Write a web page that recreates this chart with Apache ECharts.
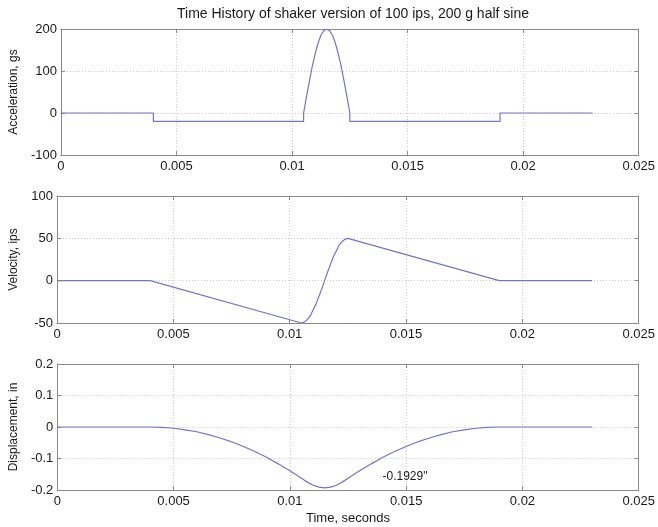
<!DOCTYPE html>
<html>
<head>
<meta charset="utf-8">
<script src="https://cdn.jsdelivr.net/npm/echarts@6/dist/echarts.min.js"></script>
<style>
  html, body { margin: 0; padding: 0; background: #fff; }
  #main { width: 658px; height: 527px; }
</style>
</head>
<body>
<div id="main"></div>
<script>
// time history (time s, value)
var accelData = [
  [0, 0], [0.004, 0], [0.004, -20], [0.0105, -20], [0.0105, 0],
  [0.010625, 39], [0.01075, 76], [0.010875, 111], [0.011, 141],
  [0.011125, 166], [0.01125, 185], [0.011375, 196], [0.0115, 200],
  [0.011625, 196], [0.01175, 185], [0.011875, 166], [0.012, 141],
  [0.012125, 111], [0.01225, 76], [0.012375, 39], [0.0125, 0],
  [0.0125, -20], [0.019, -20], [0.019, 0], [0.023, 0]
];
var velData = [
  [0, 0], [0.004, 0], [0.0105, -50], [0.010625, -49], [0.01075, -46],
  [0.010875, -42], [0.011, -35], [0.011125, -28], [0.01125, -19],
  [0.011375, -10], [0.0115, 0], [0.011625, 10], [0.01175, 19],
  [0.011875, 28], [0.012, 35], [0.012125, 42], [0.01225, 46],
  [0.012375, 49], [0.0125, 50], [0.019, 0], [0.023, 0]
];
var dispData = [
  [0, 0], [0.004, 0], [0.0045, -0.001], [0.005, -0.004], [0.0055, -0.009],
  [0.006, -0.015], [0.0065, -0.024], [0.007, -0.035], [0.0075, -0.047],
  [0.008, -0.062], [0.0085, -0.078], [0.009, -0.096], [0.0095, -0.117],
  [0.010, -0.139], [0.0105, -0.163], [0.01075, -0.175], [0.011, -0.185],
  [0.01125, -0.191], [0.0115, -0.193], [0.01175, -0.191], [0.012, -0.185],
  [0.01225, -0.175], [0.0125, -0.163], [0.013, -0.139], [0.0135, -0.117],
  [0.014, -0.096], [0.0145, -0.078], [0.015, -0.062], [0.0155, -0.047],
  [0.016, -0.035], [0.0165, -0.024], [0.017, -0.015], [0.0175, -0.009],
  [0.018, -0.004], [0.0185, -0.001], [0.019, 0], [0.023, 0]
];
var xTicks = [0, 0.005, 0.01, 0.015, 0.02, 0.025];
var accelTicks = [-100, 0, 100, 200];
var velTicks = [-50, 0, 50, 100];
var dispTicks = [-0.2, -0.1, 0, 0.1, 0.2];
var peakLabel = '-0.1929"';
var peakLabelAt = [0.01495, -0.159];

var chart = echarts.init(document.getElementById('main'));

var lineColor = '#7474c9';
var boxColor = '#8a8a8a';
var textColor = '#1a1a1a';
var font = 'Liberation Sans, Arial, sans-serif';

var grids = [
  {left: 55, top: 29, width: 587, height: 126},
  {left: 55, top: 196, width: 587, height: 127},
  {left: 55, top: 364, width: 587, height: 126}
];
var yTicks = [accelTicks, velTicks, dispTicks];
var yNames = ['Acceleration, gs', 'Velocity, ips', 'Displacement, in'];

var boxLine = {show: true, onZero: false, lineStyle: {color: boxColor}};
var boxTick = {show: true, inside: true, length: 4, lineStyle: {color: boxColor}};

var xAxes = [], yAxes = [];
for (var i = 0; i < 3; i++) {
  // bottom x axis with labels and grid
  xAxes.push({
    type: 'value', gridIndex: i, position: 'bottom',
    min: xTicks[0], max: xTicks[xTicks.length - 1], interval: xTicks[1] - xTicks[0],
    name: i === 2 ? 'Time, seconds' : '', nameLocation: 'middle', nameGap: 22,
    nameTextStyle: {color: textColor, fontSize: 13, fontFamily: font},
    axisLine: boxLine, axisTick: boxTick,
    axisLabel: {color: textColor, fontSize: 13, fontFamily: font, margin: 5,
      showMaxLabel: true, showMinLabel: true},
    splitLine: {show: true, lineStyle: {color: '#c8c8c8', type: [1, 2]}}
  });
  // top x axis, box + ticks only
  xAxes.push({
    type: 'value', gridIndex: i, position: 'top',
    min: xTicks[0], max: xTicks[xTicks.length - 1], interval: xTicks[1] - xTicks[0],
    axisLine: boxLine, axisTick: boxTick,
    axisLabel: {show: false}, splitLine: {show: false}
  });
  var t = yTicks[i];
  yAxes.push({
    type: 'value', gridIndex: i, position: 'left',
    min: t[0], max: t[t.length - 1], interval: t[1] - t[0],
    name: yNames[i], nameLocation: 'middle', nameGap: 37,
    nameTextStyle: {color: textColor, fontSize: 12, fontFamily: font},
    axisLine: boxLine, axisTick: boxTick,
    axisLabel: {color: textColor, fontSize: 13, fontFamily: font, margin: 4,
      formatter: function (v) { return String(Math.round(v * 1000) / 1000); }},
    splitLine: {show: true, lineStyle: {color: '#c8c8c8', type: [1, 2]}}
  });
  yAxes.push({
    type: 'value', gridIndex: i, position: 'right',
    min: t[0], max: t[t.length - 1], interval: t[1] - t[0],
    axisLine: boxLine, axisTick: boxTick,
    axisLabel: {show: false}, splitLine: {show: false}
  });
}

function lineSeries(idx, data) {
  return {
    type: 'line', xAxisIndex: idx * 2, yAxisIndex: idx * 2,
    data: data, showSymbol: false, smooth: false, animation: false,
    lineStyle: {color: lineColor, width: 1.2}
  };
}

var dispSeries = lineSeries(2, dispData);
dispSeries.markPoint = {
  symbol: 'circle', symbolSize: 0, animation: false,
  data: [{coord: peakLabelAt}],
  label: {show: true, position: 'inside', formatter: peakLabel,
    color: textColor, fontSize: 12, fontFamily: font}
};

var option = {
  backgroundColor: '#fff',
  animation: false,
  title: {
    text: 'Time History of shaker version of 100 ips, 200 g half sine',
    left: 348, top: 2, textAlign: 'center',
    textStyle: {color: textColor, fontSize: 14, fontWeight: 'normal', fontFamily: font}
  },
  grid: grids,
  xAxis: xAxes,
  yAxis: yAxes,
  series: [lineSeries(0, accelData), lineSeries(1, velData), dispSeries]
};
chart.setOption(option);
</script>
</body>
</html>
